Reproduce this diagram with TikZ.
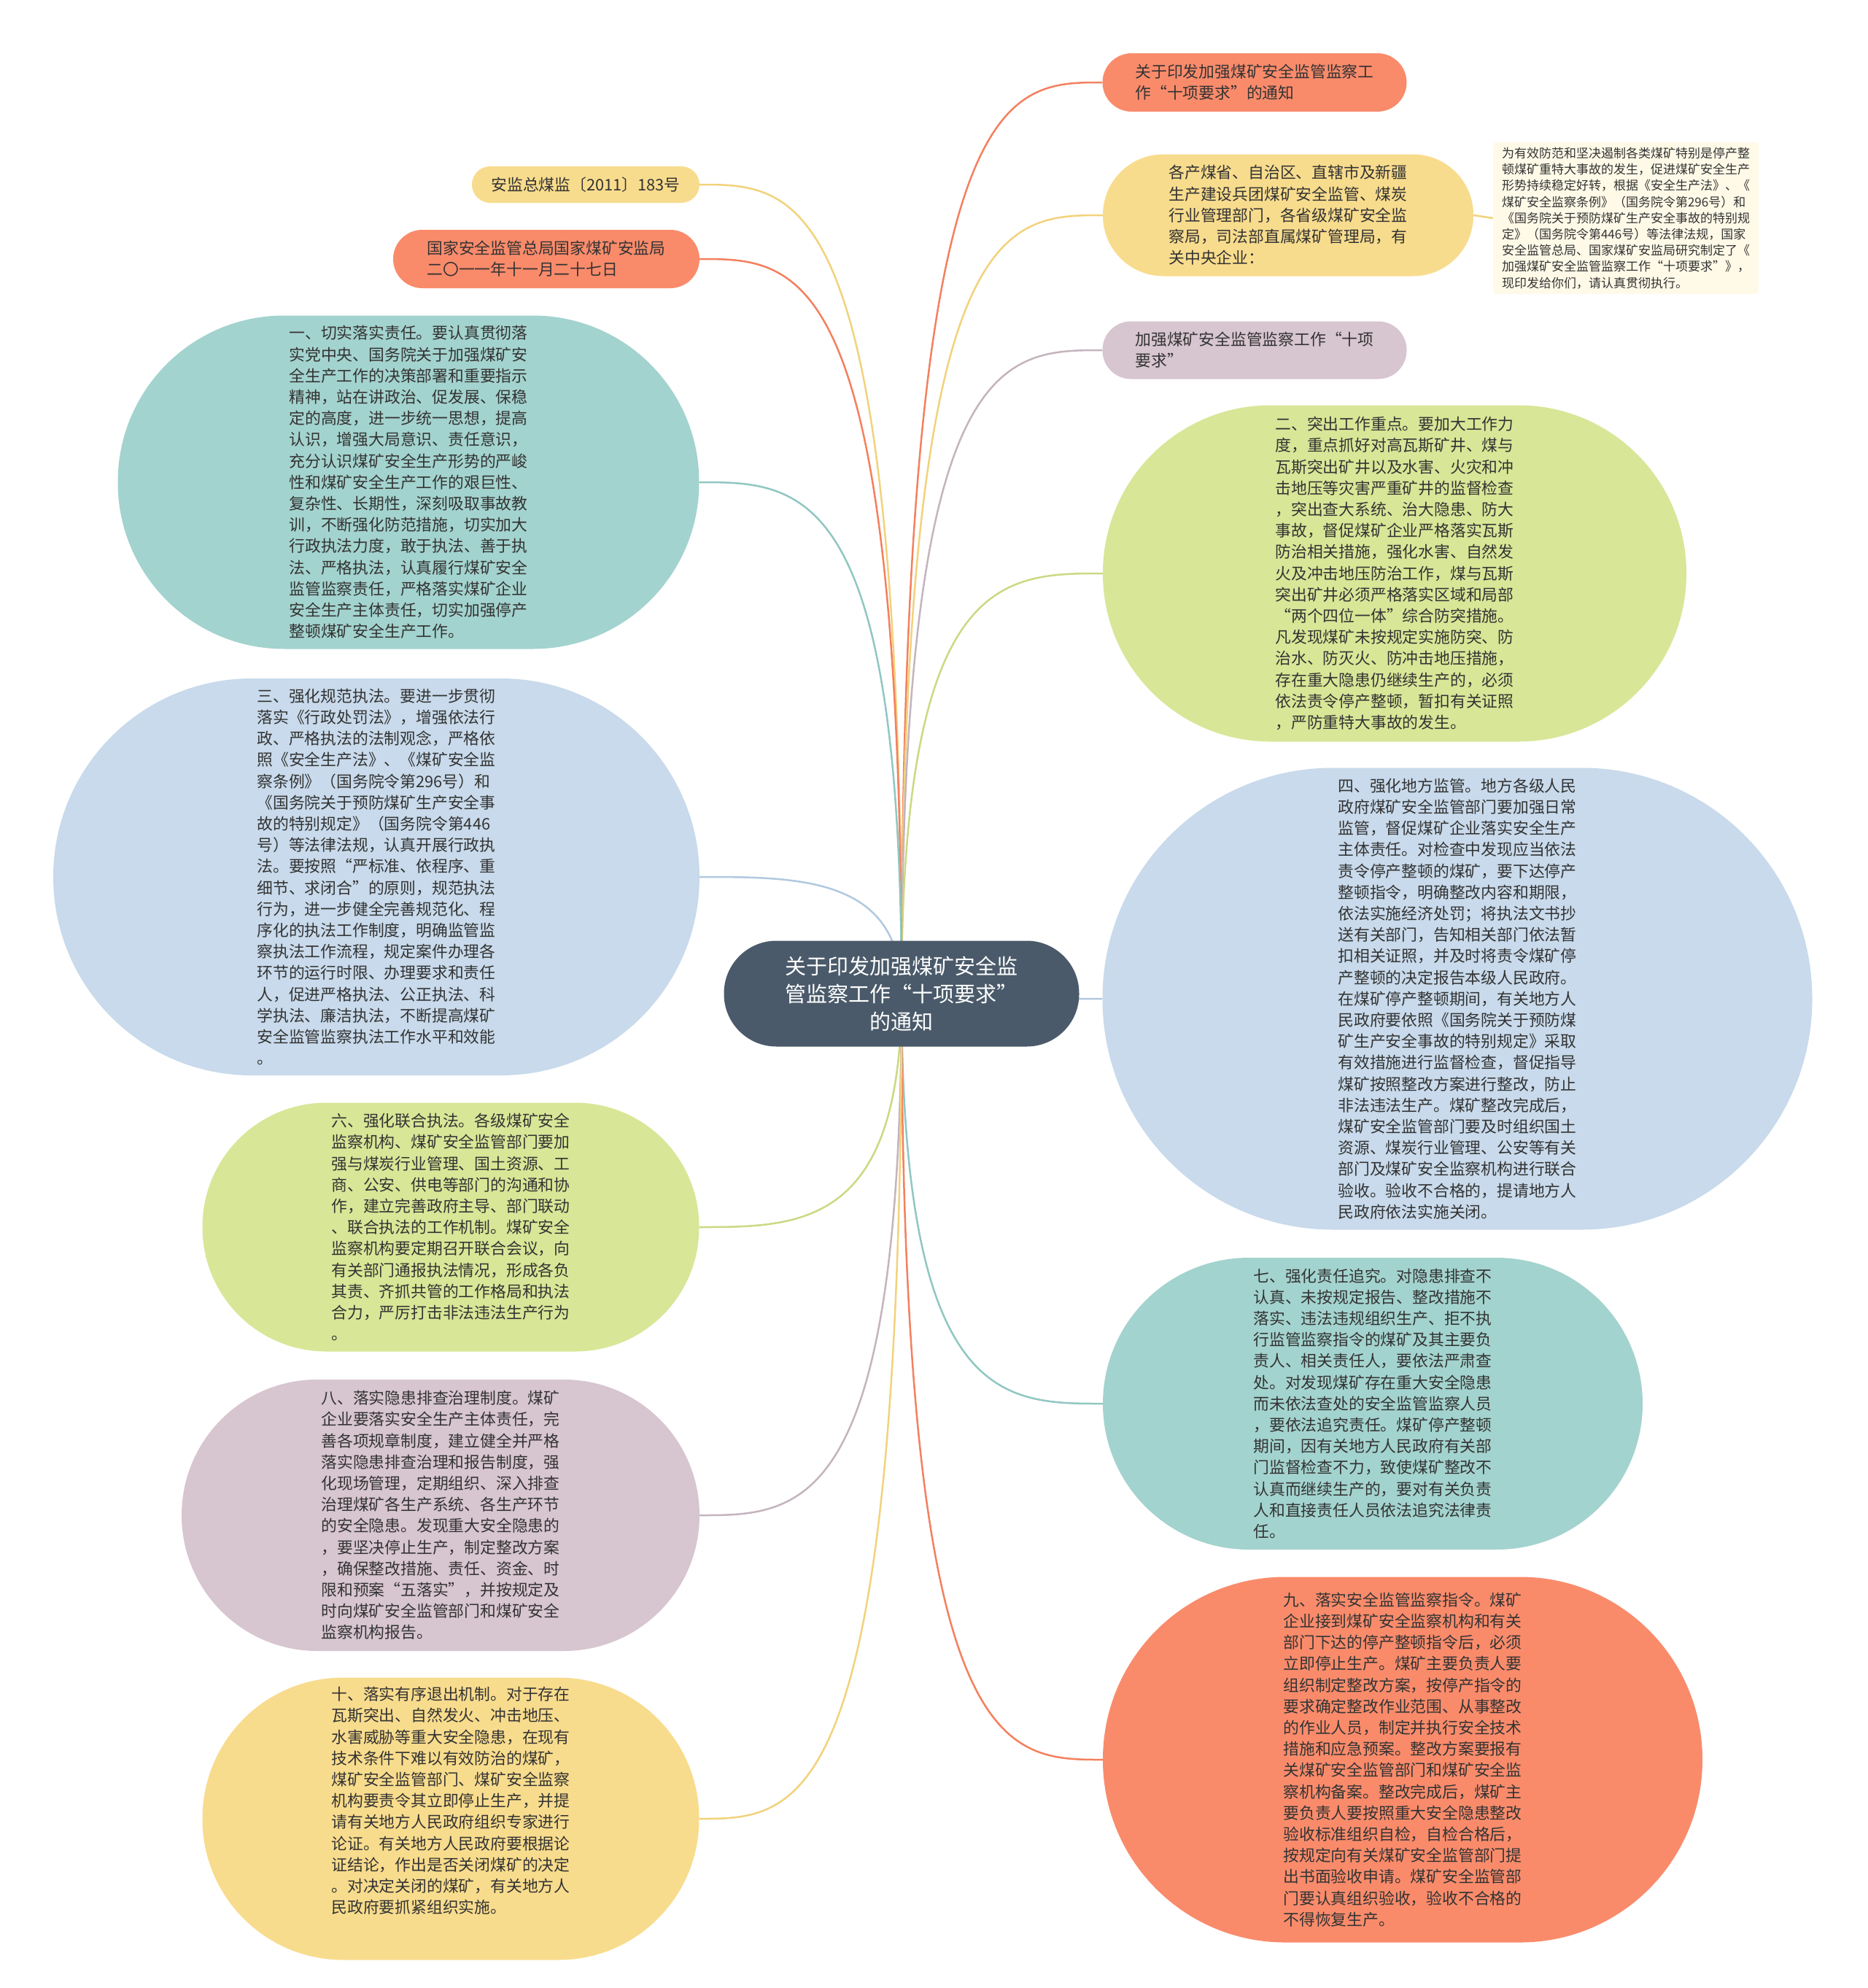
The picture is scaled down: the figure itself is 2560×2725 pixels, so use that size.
\documentclass[tikz,border=0pt]{standalone}
\usepackage{fontspec}
\newfontfamily\cjk{Noto Sans CJK SC}
\usetikzlibrary{calc,backgrounds}
\definecolor{forange}{HTML}{F98B6B}
\definecolor{lorange}{HTML}{F4805F}
\definecolor{fyellow}{HTML}{F8DC8D}
\definecolor{lyellow}{HTML}{F2D27C}
\definecolor{fteal}{HTML}{A3D3CE}
\definecolor{lteal}{HTML}{90C7C1}
\definecolor{fblue}{HTML}{C8DAEB}
\definecolor{lblue}{HTML}{B1C9E0}
\definecolor{fgreen}{HTML}{D8E697}
\definecolor{lgreen}{HTML}{C9DA82}
\definecolor{fmauve}{HTML}{D7C5CF}
\definecolor{lmauve}{HTML}{C4B4BE}
\definecolor{fcenter}{HTML}{4A5A6A}
\definecolor{fnote}{HTML}{FFFAE8}
\definecolor{txt}{HTML}{333333}
\newcommand\rlink[2]{\draw[link,#2] (c.center) .. controls (c.center |- #1.west) and ($(c.center |- #1.west)!0.5!(#1.west)$) .. (#1.west);}
\newcommand\llink[2]{\draw[link,#2] (c.center) .. controls (c.center |- #1.east) and ($(c.center |- #1.east)!0.5!(#1.east)$) .. (#1.east);}
\begin{document}
\begin{tikzpicture}[x=1pt,y=-1pt,
  bubble/.style={inner sep=0pt, text=txt, align=left, font=\cjk\fontsize{21.8}{29.2}\selectfont},
  link/.style={line width=2.5pt}
]
\useasboundingbox (0,0) rectangle (2560,2725);

% center
\node[inner sep=0pt, fill=fcenter, text=white, align=center, font=\cjk\fontsize{29}{38}\selectfont,
  minimum width=487pt, minimum height=145pt, rounded corners=72pt] (c) at (1236,1362)
  {关于印发加强煤矿安全监\\管监察工作“十项要求”\\的通知};

% right side
\node[bubble, fill=forange, minimum width=417pt, minimum height=80pt, rounded corners=40pt] (t) at (1720,113)
  {关于印发加强煤矿安全监管监察工\\作“十项要求”的通知};
\node[bubble, fill=fyellow, minimum width=508pt, minimum height=167pt, rounded corners=83pt] (g) at (1766,295)
  {各产煤省、自治区、直辖市及新疆\\生产建设兵团煤矿安全监管、煤炭\\行业管理部门，各省级煤矿安全监\\察局，司法部直属煤矿管理局，有\\关中央企业：};
\node[inner sep=0pt, fill=fnote, text=txt, align=left, rounded corners=4pt, font=\cjk\fontsize{17}{22.2}\selectfont,
  minimum width=364pt, minimum height=208pt] (nt) at (2229,299)
  {为有效防范和坚决遏制各类煤矿特别是停产整\\顿煤矿重特大事故的发生，促进煤矿安全生产\\形势持续稳定好转，根据《安全生产法》、《\\煤矿安全监察条例》（国务院令第296号）和\\《国务院关于预防煤矿生产安全事故的特别规\\定》（国务院令第446号）等法律法规，国家\\安全监管总局、国家煤矿安监局研究制定了《\\加强煤矿安全监管监察工作“十项要求”》，\\现印发给你们，请认真贯彻执行。};
\node[bubble, fill=fmauve, minimum width=417pt, minimum height=79pt, rounded corners=39pt] (j) at (1720,480)
  {加强煤矿安全监管监察工作“十项\\要求”};
\node[bubble, fill=fgreen, minimum width=800pt, minimum height=461pt, rounded corners=230pt] (n2) at (1912,786)
  {二、突出工作重点。要加大工作力\\度，重点抓好对高瓦斯矿井、煤与\\瓦斯突出矿井以及水害、火灾和冲\\击地压等灾害严重矿井的监督检查\\，突出查大系统、治大隐患、防大\\事故，督促煤矿企业严格落实瓦斯\\防治相关措施，强化水害、自然发\\火及冲击地压防治工作，煤与瓦斯\\突出矿井必须严格落实区域和局部\\“两个四位一体”综合防突措施。\\凡发现煤矿未按规定实施防突、防\\治水、防灭火、防冲击地压措施，\\存在重大隐患仍继续生产的，必须\\依法责令停产整顿，暂扣有关证照\\，严防重特大事故的发生。};
\node[bubble, fill=fblue, minimum width=973pt, minimum height=633pt, rounded corners=316pt] (n4) at (1998,1369)
  {四、强化地方监管。地方各级人民\\政府煤矿安全监管部门要加强日常\\监管，督促煤矿企业落实安全生产\\主体责任。对检查中发现应当依法\\责令停产整顿的煤矿，要下达停产\\整顿指令，明确整改内容和期限，\\依法实施经济处罚；将执法文书抄\\送有关部门，告知相关部门依法暂\\扣相关证照，并及时将责令煤矿停\\产整顿的决定报告本级人民政府。\\在煤矿停产整顿期间，有关地方人\\民政府要依照《国务院关于预防煤\\矿生产安全事故的特别规定》采取\\有效措施进行监督检查，督促指导\\煤矿按照整改方案进行整改，防止\\非法违法生产。煤矿整改完成后，\\煤矿安全监管部门要及时组织国土\\资源、煤炭行业管理、公安等有关\\部门及煤矿安全监察机构进行联合\\验收。验收不合格的，提请地方人\\民政府依法实施关闭。};
\node[bubble, fill=fteal, minimum width=740pt, minimum height=400pt, rounded corners=200pt] (n7) at (1882,1924)
  {七、强化责任追究。对隐患排查不\\认真、未按规定报告、整改措施不\\落实、违法违规组织生产、拒不执\\行监管监察指令的煤矿及其主要负\\责人、相关责任人，要依法严肃查\\处。对发现煤矿存在重大安全隐患\\而未依法查处的安全监管监察人员\\，要依法追究责任。煤矿停产整顿\\期间，因有关地方人民政府有关部\\门监督检查不力，致使煤矿整改不\\认真而继续生产的，要对有关负责\\人和直接责任人员依法追究法律责\\任。};
\node[bubble, fill=forange, minimum width=822pt, minimum height=501pt, rounded corners=250pt] (n9) at (1923,2412)
  {九、落实安全监管监察指令。煤矿\\企业接到煤矿安全监察机构和有关\\部门下达的停产整顿指令后，必须\\立即停止生产。煤矿主要负责人要\\组织制定整改方案，按停产指令的\\要求确定整改作业范围、从事整改\\的作业人员，制定并执行安全技术\\措施和应急预案。整改方案要报有\\关煤矿安全监管部门和煤矿安全监\\察机构备案。整改完成后，煤矿主\\要负责人要按照重大安全隐患整改\\验收标准组织自检，自检合格后，\\按规定向有关煤矿安全监管部门提\\出书面验收申请。煤矿安全监管部\\门要认真组织验收，验收不合格的\\不得恢复生产。};

% left side
\node[bubble, fill=fyellow, minimum width=312pt, minimum height=50pt, rounded corners=25pt] (a) at (803,253)
  {安监总煤监〔2011〕183号};
\node[bubble, fill=forange, minimum width=420pt, minimum height=80pt, rounded corners=40pt] (b) at (749,355)
  {国家安全监管总局国家煤矿安监局\\二〇一一年十一月二十七日};
\node[bubble, fill=fteal, minimum width=797pt, minimum height=457pt, rounded corners=228pt] (n1) at (560,661)
  {一、切实落实责任。要认真贯彻落\\实党中央、国务院关于加强煤矿安\\全生产工作的决策部署和重要指示\\精神，站在讲政治、促发展、保稳\\定的高度，进一步统一思想，提高\\认识，增强大局意识、责任意识，\\充分认识煤矿安全生产形势的严峻\\性和煤矿安全生产工作的艰巨性、\\复杂性、长期性，深刻吸取事故教\\训，不断强化防范措施，切实加大\\行政执法力度，敢于执法、善于执\\法、严格执法，认真履行煤矿安全\\监管监察责任，严格落实煤矿企业\\安全生产主体责任，切实加强停产\\整顿煤矿安全生产工作。};
\node[bubble, fill=fblue, minimum width=886pt, minimum height=544pt, rounded corners=272pt] (n3) at (516,1202)
  {三、强化规范执法。要进一步贯彻\\落实《行政处罚法》，增强依法行\\政、严格执法的法制观念，严格依\\照《安全生产法》、《煤矿安全监\\察条例》（国务院令第296号）和\\《国务院关于预防煤矿生产安全事\\故的特别规定》（国务院令第446\\号）等法律法规，认真开展行政执\\法。要按照“严标准、依程序、重\\细节、求闭合”的原则，规范执法\\行为，进一步健全完善规范化、程\\序化的执法工作制度，明确监管监\\察执法工作流程，规定案件办理各\\环节的运行时限、办理要求和责任\\人，促进严格执法、公正执法、科\\学执法、廉洁执法，不断提高煤矿\\安全监管监察执法工作水平和效能\\。};
\node[bubble, fill=fgreen, minimum width=681pt, minimum height=341pt, rounded corners=170pt] (n6) at (618,1682)
  {六、强化联合执法。各级煤矿安全\\监察机构、煤矿安全监管部门要加\\强与煤炭行业管理、国土资源、工\\商、公安、供电等部门的沟通和协\\作，建立完善政府主导、部门联动\\、联合执法的工作机制。煤矿安全\\监察机构要定期召开联合会议，向\\有关部门通报执法情况，形成各负\\其责、齐抓共管的工作格局和执法\\合力，严厉打击非法违法生产行为\\。};
\node[bubble, fill=fmauve, minimum width=710pt, minimum height=372pt, rounded corners=186pt] (n8) at (604,2077)
  {八、落实隐患排查治理制度。煤矿\\企业要落实安全生产主体责任，完\\善各项规章制度，建立健全并严格\\落实隐患排查治理和报告制度，强\\化现场管理，定期组织、深入排查\\治理煤矿各生产系统、各生产环节\\的安全隐患。发现重大安全隐患的\\，要坚决停止生产，制定整改方案\\，确保整改措施、责任、资金、时\\限和预案“五落实”，并按规定及\\时向煤矿安全监管部门和煤矿安全\\监察机构报告。};
\node[bubble, fill=fyellow, minimum width=681pt, minimum height=387pt, rounded corners=193pt] (n10) at (618,2493)
  {十、落实有序退出机制。对于存在\\瓦斯突出、自然发火、冲击地压、\\水害威胁等重大安全隐患，在现有\\技术条件下难以有效防治的煤矿，\\煤矿安全监管部门、煤矿安全监察\\机构要责令其立即停止生产，并提\\请有关地方人民政府组织专家进行\\论证。有关地方人民政府要根据论\\证结论，作出是否关闭煤矿的决定\\。对决定关闭的煤矿，有关地方人\\民政府要抓紧组织实施。\\[22pt]};

\begin{scope}[on background layer]
\fill[white] (0,0) rectangle (2560,2725);
\rlink{t}{lorange}
\rlink{g}{lyellow}
\rlink{j}{lmauve}
\rlink{n2}{lgreen}
\rlink{n4}{lblue}
\rlink{n7}{lteal}
\rlink{n9}{lorange}
\llink{a}{lyellow}
\llink{b}{lorange}
\llink{n1}{lteal}
\llink{n3}{lblue}
\llink{n6}{lgreen}
\llink{n8}{lmauve}
\llink{n10}{lyellow}
\draw[link,lyellow] (g.east) -- (nt.west);
\end{scope}
\end{tikzpicture}
\end{document}
